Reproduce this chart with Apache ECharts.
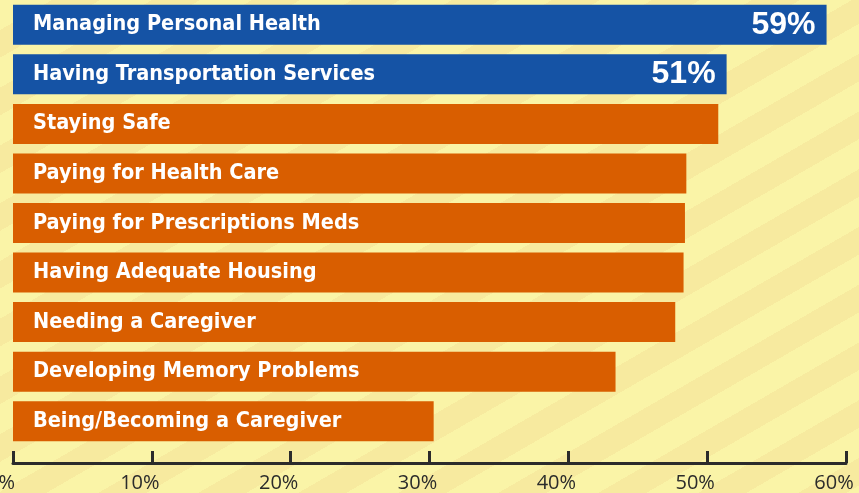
<!DOCTYPE html>
<html>
<head>
<meta charset="utf-8">
<script src="https://cdn.jsdelivr.net/npm/echarts@6/dist/echarts.min.js"></script>
<style>
  html, body { margin: 0; padding: 0; }
  #chart {
    width: 859px; height: 493px;
    background-color: #faf4a7;
    background-image: repeating-linear-gradient(150deg, #faf4a7 0px, #faf4a7 26px, #f7ea9f 26px, #f7ea9f 50px);
  }
</style>
</head>
<body>
<div id="chart"></div>
<script>
var categories = ['Managing Personal Health', 'Having Transportation Services', 'Staying Safe',
  'Paying for Health Care', 'Paying for Prescriptions Meds', 'Having Adequate Housing',
  'Needing a Caregiver', 'Developing Memory Problems', 'Being/Becoming a Caregiver'];
var values = [58.6, 51.4, 50.8, 48.5, 48.4, 48.3, 47.7, 43.4, 30.3];
var valueLabels = ['59%', '51%', '', '', '', '', '', '', ''];
var barColors = ['#1553a5', '#1553a5', '#d95e00', '#d95e00', '#d95e00', '#d95e00', '#d95e00', '#d95e00', '#d95e00'];
var tickValues = [0, 10, 20, 30, 40, 50, 60];

var chart = echarts.init(document.getElementById('chart'));

var option = {
  animation: false,
  grid: { left: 13, right: 13, top: 0, bottom: 47, containLabel: false, outerBoundsMode: 'none' },
  xAxis: {
    type: 'value',
    min: tickValues[0],
    max: tickValues[tickValues.length - 1],
    interval: 10,
    offset: 17,
    splitLine: { show: false },
    axisLine: { show: true, lineStyle: { color: '#2b2b2b', width: 3 } },
    axisTick: { show: true, inside: true, length: 12, lineStyle: { color: '#2b2b2b', width: 3 } },
    axisLabel: {
      formatter: '{value}%',
      color: '#2b2b2b',
      fontSize: 20,
      fontFamily: 'Open Sans',
      margin: 10,
      padding: [0, 24, 0, 0],
      showMinLabel: true,
      showMaxLabel: true,
      hideOverlap: false
    }
  },
  yAxis: {
    type: 'category',
    data: categories,
    inverse: true,
    show: false
  },
  series: [
    {
      type: 'bar',
      barWidth: 40,
      data: values.map(function (v, i) {
        return { value: v, itemStyle: { color: barColors[i] } };
      }),
      label: {
        show: true,
        position: 'insideLeft',
        distance: 20,
        formatter: '{b}',
        color: '#fff',
        fontSize: 21.5,
        fontWeight: 'bold',
        fontFamily: '"DejaVu Sans Condensed", sans-serif'
      }
    },
    {
      type: 'bar',
      barWidth: 40,
      barGap: '-100%',
      silent: true,
      itemStyle: { color: 'rgba(0,0,0,0)' },
      data: values.map(function (v, i) {
        return { value: v, label: { show: valueLabels[i] !== '' } };
      }),
      label: {
        show: false,
        position: 'insideRight',
        distance: 11,
        formatter: function (p) { return valueLabels[p.dataIndex]; },
        color: '#fff',
        fontSize: 32,
        fontWeight: 'bold',
        fontFamily: '"Liberation Sans", Arial, sans-serif'
      }
    }
  ]
};

chart.setOption(option);
</script>
</body>
</html>
